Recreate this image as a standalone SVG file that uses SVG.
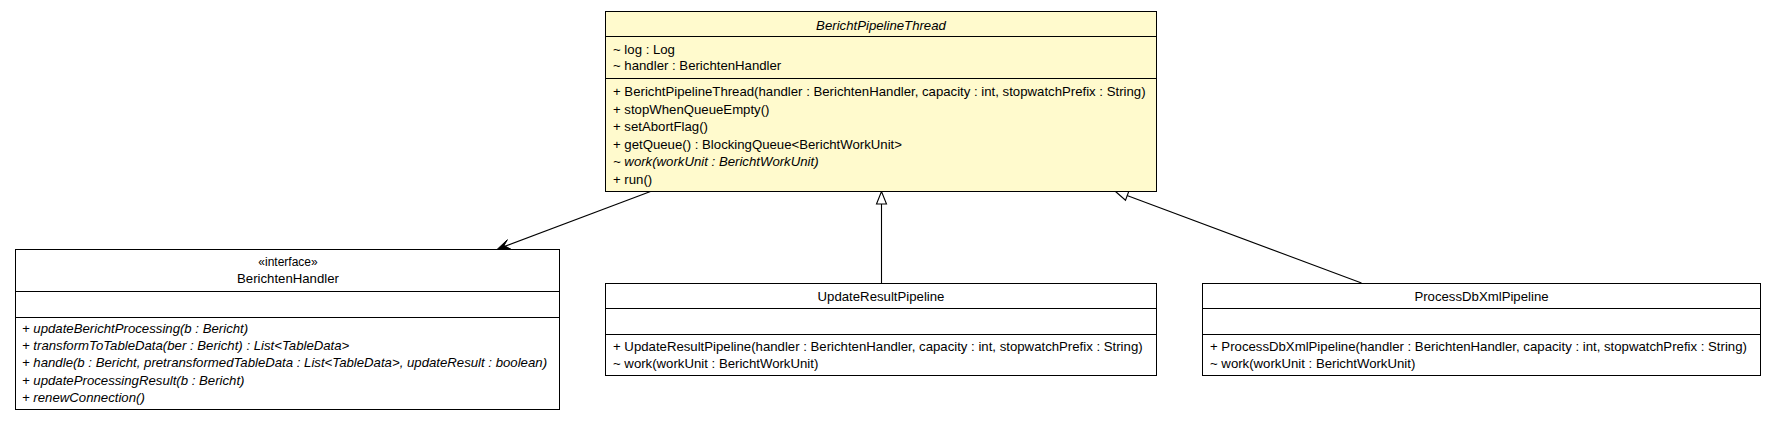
<svg xmlns="http://www.w3.org/2000/svg" width="1777" height="423" viewBox="0 0 1777 423">
<style>
text{font-family:"Liberation Sans",Arial,Helvetica,sans-serif;font-size:13.2px;fill:#000}
.c{text-anchor:middle}
.i{font-style:italic}
.box{fill:#fff;stroke:#000;stroke-width:1}
.focus{fill:#fffacd;stroke:#000;stroke-width:1}
.div{stroke:#000;stroke-width:1}
.edge{fill:none;stroke:#000;stroke-width:1.1}
.tri{fill:#fff;stroke:#000;stroke-width:1.1}
.vee{fill:#000;stroke:#000;stroke-width:1}
</style>
<g id="connectors">
<line class="edge" x1="650.5" y1="191.5" x2="499" y2="248.5"/>
<polygon class="vee" points="497,249.5 511,249.3 504,245.5 507.4,239.7"/>
<line class="edge" x1="881.5" y1="283" x2="881.5" y2="204"/>
<polygon class="tri" points="881.5,191.5 876.5,204 886.5,204"/>
<line class="edge" x1="1361.5" y1="283" x2="1127" y2="195.5"/>
<polygon class="tri" points="1115.5,191.5 1125.5,200.2 1129,190.8"/>
</g>
<g id="BerichtPipelineThread">
<rect class="focus" x="605.5" y="11.5" width="551" height="180"/>
<line class="div" x1="605.5" y1="36.5" x2="1156.5" y2="36.5"/>
<line class="div" x1="605.5" y1="78.5" x2="1156.5" y2="78.5"/>
<text class="c i" x="881" y="29.5">BerichtPipelineThread</text>
<text x="613" y="53.5">~ log : Log</text>
<text x="613" y="70">~ handler : BerichtenHandler</text>
<text x="613" y="96">+ BerichtPipelineThread(handler : BerichtenHandler, capacity : int, stopwatchPrefix : String)</text>
<text x="613" y="113.5">+ stopWhenQueueEmpty()</text>
<text x="613" y="131">+ setAbortFlag()</text>
<text x="613" y="148.5">+ getQueue() : BlockingQueue&lt;BerichtWorkUnit&gt;</text>
<text class="i" x="613" y="166">~ work(workUnit : BerichtWorkUnit)</text>
<text x="613" y="183.5">+ run()</text>
</g>
<g id="BerichtenHandler">
<rect class="box" x="15.5" y="249.5" width="544" height="160"/>
<line class="div" x1="15.5" y1="291.5" x2="559.5" y2="291.5"/>
<line class="div" x1="15.5" y1="317.5" x2="559.5" y2="317.5"/>
<text class="c" x="288" y="266" style="font-size:12px">«interface»</text>
<text class="c" x="288" y="283.4">BerichtenHandler</text>
<text class="i" x="22" y="333">+ updateBerichtProcessing(b : Bericht)</text>
<text class="i" x="22" y="350.2">+ transformToTableData(ber : Bericht) : List&lt;TableData&gt;</text>
<text class="i" x="22" y="367.4">+ handle(b : Bericht, pretransformedTableData : List&lt;TableData&gt;, updateResult : boolean)</text>
<text class="i" x="22" y="384.6">+ updateProcessingResult(b : Bericht)</text>
<text class="i" x="22" y="401.8">+ renewConnection()</text>
</g>
<g id="UpdateResultPipeline">
<rect class="box" x="605.5" y="283.5" width="551" height="92"/>
<line class="div" x1="605.5" y1="308.5" x2="1156.5" y2="308.5"/>
<line class="div" x1="605.5" y1="334.5" x2="1156.5" y2="334.5"/>
<text class="c" x="881" y="300.5">UpdateResultPipeline</text>
<text x="613" y="351">+ UpdateResultPipeline(handler : BerichtenHandler, capacity : int, stopwatchPrefix : String)</text>
<text x="613" y="368.4">~ work(workUnit : BerichtWorkUnit)</text>
</g>
<g id="ProcessDbXmlPipeline">
<rect class="box" x="1202.5" y="283.5" width="558" height="92"/>
<line class="div" x1="1202.5" y1="308.5" x2="1760.5" y2="308.5"/>
<line class="div" x1="1202.5" y1="334.5" x2="1760.5" y2="334.5"/>
<text class="c" x="1481.5" y="300.5">ProcessDbXmlPipeline</text>
<text x="1210" y="351">+ ProcessDbXmlPipeline(handler : BerichtenHandler, capacity : int, stopwatchPrefix : String)</text>
<text x="1210" y="368.4">~ work(workUnit : BerichtWorkUnit)</text>
</g>
</svg>
